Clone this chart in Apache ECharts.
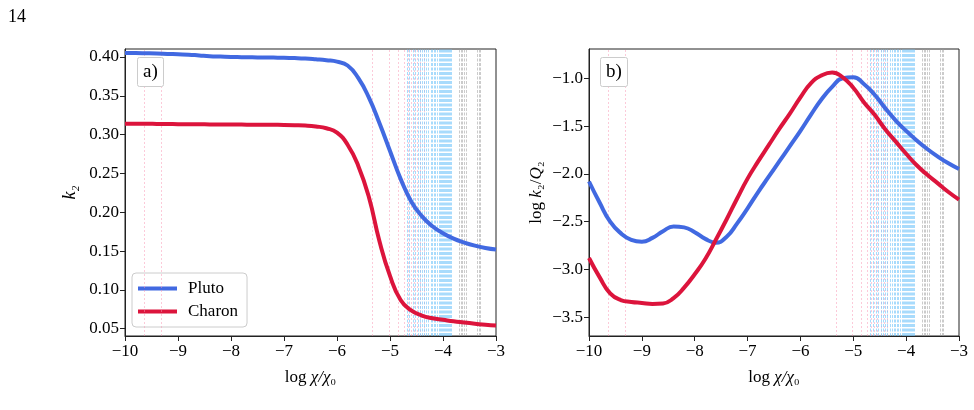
<!DOCTYPE html>
<html>
<head>
<meta charset="utf-8">
<script src="https://cdn.jsdelivr.net/npm/echarts@6/dist/echarts.min.js"></script>
<style>
html,body{margin:0;padding:0;background:#fff;}
#chart{width:974px;height:410px;}
</style>
</head>
<body>
<div id="chart"></div>
<script>
// shared x grid (log chi/chi0)
var xs = [-10,-9.8,-9.6,-9.4,-9.2,-9,-8.8,-8.6,-8.4,-8.2,-8,-7.8,-7.6,-7.4,-7.2,-7,-6.8,-6.6,-6.4,-6.2,-6,-5.8,-5.6,-5.4,-5.2,-5,-4.8,-4.6,-4.4,-4.2,-4,-3.8,-3.6,-3.4,-3.2,-3]

// panel a) k2
var plutoK2 = [0.405,0.405,0.4048,0.4045,0.404,0.4035,0.403,0.402,0.401,0.4005,0.400,0.3998,0.3996,0.3994,0.3992,0.399,0.3986,0.398,0.397,0.3958,0.394,0.389,0.373,0.348,0.315,0.279,0.243,0.214,0.195,0.182,0.173,0.166,0.161,0.157,0.154,0.152]
var charonK2 = [0.314,0.314,0.314,0.3138,0.3136,0.3135,0.3134,0.3133,0.3132,0.3131,0.313,0.3129,0.3128,0.3127,0.3126,0.3125,0.3122,0.3117,0.3105,0.3082,0.3025,0.287,0.260,0.220,0.163,0.118,0.087,0.0735,0.067,0.0635,0.0615,0.0595,0.058,0.0565,0.055,0.054]

// panel b) log k2/Q2
var plutoQ = [-2.08,-2.30,-2.50,-2.62,-2.69,-2.71,-2.67,-2.60,-2.55,-2.56,-2.61,-2.68,-2.72,-2.66,-2.52,-2.36,-2.19,-2.03,-1.87,-1.71,-1.55,-1.38,-1.22,-1.09,-1.0,-0.99,-1.06,-1.17,-1.31,-1.44,-1.55,-1.65,-1.74,-1.82,-1.89,-1.95]
var charonQ = [-2.88,-3.08,-3.25,-3.32,-3.34,-3.35,-3.36,-3.355,-3.30,-3.19,-3.05,-2.89,-2.69,-2.48,-2.26,-2.05,-1.87,-1.70,-1.53,-1.37,-1.20,-1.05,-0.97,-0.94,-0.99,-1.10,-1.25,-1.38,-1.53,-1.66,-1.79,-1.91,-2.01,-2.10,-2.19,-2.27]

// vertical reference lines
var pinkLines = [-9.64,-9.32,-5.33,-5.02,-4.84,-4.73,-4.66,-4.6,-4.54,-4.48,-4.42,-4.36]
var blueLines = [-4.68,-4.63,-4.57,-4.52,-4.47,-4.43,-4.39,-4.35,-4.31,-4.27,-4.23,-4.2,-4.17,-4.14,-4.11,-4.08,-4.06,-4.04,-4.02,-4.0,-3.98,-3.96,-3.94,-3.92,-3.9,-3.88,-3.86,-3.84]
var greyLines = [-3.69,-3.66,-3.63,-3.6,-3.57,-3.36,-3.32,-3.29]

var k2Ticks = [0.05,0.10,0.15,0.20,0.25,0.30,0.35,0.40]
var qTicks = [-3.5,-3.0,-2.5,-2.0,-1.5,-1.0]

var font = 'Liberation Serif'
function minus(s){ return String(s).replace('-', '\u2212') }
function pairs(xv, yv){ var out=[]; for(var i=0;i<xv.length;i++){ out.push([xv[i],yv[i]]) } return out }

function xAxisFor(idx){
	return {
		type:'value', gridIndex:idx, min:-10, max:-3, interval:1,
		name:'{n|log }{i|\u03c7/\u03c7}{n|\u2080}', nameLocation:'middle', nameGap:33,
		nameTextStyle:{ rich:{ n:{fontFamily:font,fontSize:17,color:'#000'}, i:{fontFamily:font,fontSize:17,fontStyle:'italic',color:'#000'} } },
		axisLine:{lineStyle:{color:'#222',width:1}},
		axisTick:{length:5,inside:false,lineStyle:{color:'#222'}},
		axisLabel:{color:'#000',fontFamily:font,fontSize:17,margin:7,formatter:function(v){return minus(v)}},
		splitLine:{show:false}
	}
}

function vlines(idx){
	var s=[]
	var groups=[[pinkLines,'rgba(250,150,180,0.5)',[2,2]],[blueLines,'rgba(110,195,250,0.6)',[3,1.5]],[greyLines,'rgba(160,160,160,0.55)',[3,1.5]]]
	groups.forEach(function(g){
		s.push({
			type:'line', xAxisIndex:idx, yAxisIndex:idx, data:[], silent:true, z:1,
			markLine:{
				silent:true, symbol:['none','none'], label:{show:false}, animation:false,
				lineStyle:{color:g[1],width:1,type:g[2]},
				emphasis:{disabled:true},
				data:g[0].map(function(v){return {xAxis:v}})
			}
		})
	})
	return s
}

function curve(name, idx, yv, color){
	return {
		name:name, type:'line', xAxisIndex:idx, yAxisIndex:idx, data:pairs(xs,yv),
		smooth:0.5, symbol:'none', showSymbol:false, z:5,
		lineStyle:{color:color,width:4}, itemStyle:{color:color}
	}
}

var blue='#4169e1', red='#dc143c'

var mychart = echarts.init(document.getElementById('chart'))
var option = {
	animation:false,
	backgroundColor:'#fff',
	title:[
		{text:'14', left:3, top:3, textStyle:{fontFamily:font,fontSize:18,fontWeight:'normal',color:'#000'}},
		{text:'a)', left:137, top:57, padding:[6,6,5,6], borderColor:'#ccc', borderWidth:1, borderRadius:2, backgroundColor:'#fff',
			textStyle:{fontFamily:font,fontSize:19,fontWeight:'normal',color:'#000'}},
		{text:'b)', left:600, top:57, padding:[6,6,5,6], borderColor:'#ccc', borderWidth:1, borderRadius:2, backgroundColor:'#fff',
			textStyle:{fontFamily:font,fontSize:19,fontWeight:'normal',color:'#000'}}
	],
	legend:{
		data:['Pluto','Charon'], orient:'vertical', left:132, top:273,
		icon:'rect', itemWidth:39, itemHeight:4, itemGap:6,
		padding:[7,9,7,6], backgroundColor:'#fff', borderColor:'#ccc', borderWidth:1, borderRadius:4,
		textStyle:{fontFamily:font,fontSize:17,color:'#000',padding:[0,0,0,6],lineHeight:17}
	},
	grid:[
		{left:125, top:49, width:371, height:287, show:true, borderColor:'#222', borderWidth:1, backgroundColor:'transparent'},
		{left:589, top:49, width:370, height:287, show:true, borderColor:'#222', borderWidth:1, backgroundColor:'transparent'}
	],
	xAxis:[xAxisFor(0), xAxisFor(1)],
	yAxis:[
		{type:'value', gridIndex:0, min:0.0406, max:0.4103,
			name:'k\u2082', nameLocation:'middle', nameGap:46, nameRotate:90,
			nameTextStyle:{fontFamily:font,fontSize:18,fontStyle:'italic',color:'#000'},
			axisLine:{show:true,lineStyle:{color:'#222'}},
			axisTick:{show:true,length:5,customValues:k2Ticks,lineStyle:{color:'#222'}},
			axisLabel:{color:'#000',fontFamily:font,fontSize:17,margin:6,customValues:k2Ticks,formatter:function(v){return v.toFixed(2)}},
			splitLine:{show:false}},
		{type:'value', gridIndex:1, min:-3.696, max:-0.694,
			name:'{n|log }{i|k}{n|\u2082/}{i|Q}{n|\u2082}', nameLocation:'middle', nameGap:44, nameRotate:90,
			nameTextStyle:{rich:{ n:{fontFamily:font,fontSize:17,color:'#000'}, i:{fontFamily:font,fontSize:17,fontStyle:'italic',color:'#000'} }},
			axisLine:{show:true,lineStyle:{color:'#222'}},
			axisTick:{show:true,length:5,customValues:qTicks,lineStyle:{color:'#222'}},
			axisLabel:{color:'#000',fontFamily:font,fontSize:17,margin:6,customValues:qTicks,formatter:function(v){return minus(v.toFixed(1))}},
			splitLine:{show:false}}
	],
	series:[].concat(
		vlines(0), vlines(1),
		[curve('Pluto',0,plutoK2,blue), curve('Charon',0,charonK2,red),
		 curve('Pluto',1,plutoQ,blue), curve('Charon',1,charonQ,red)]
	)
}
mychart.setOption(option)
</script>
</body>
</html>
